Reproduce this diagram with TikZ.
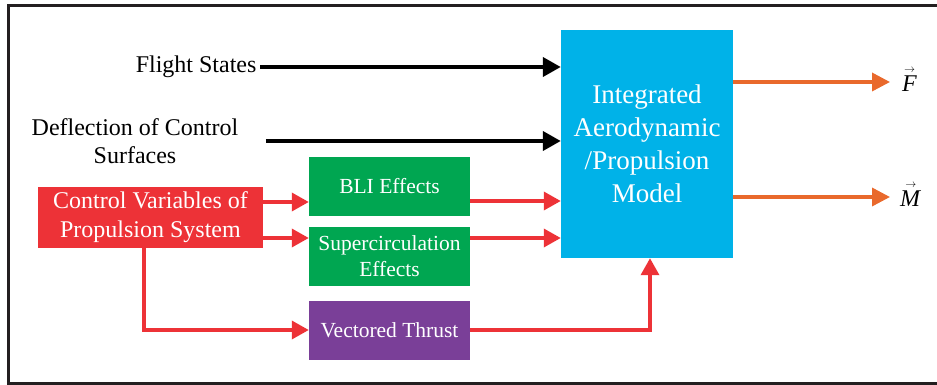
\documentclass[tikz,border=0pt]{standalone}
\usepackage{fontspec}
\setmainfont{Liberation Serif}
\usetikzlibrary{arrows.meta}

\definecolor{azul}{RGB}{0,178,232}
\definecolor{verde}{RGB}{0,166,81}
\definecolor{rojo}{RGB}{237,50,55}
\definecolor{morado}{RGB}{122,63,152}
\definecolor{naranja}{RGB}{233,105,44}
\definecolor{marco}{RGB}{35,31,32}

\newcommand{\vecletra}[1]{\shortstack{{\fontsize{11}{11}\selectfont$\rightarrow$}\\\textit{#1}}}

\tikzset{
  caja/.style={text=white, align=center, inner sep=0pt},
  etiqueta/.style={font=\fontsize{24}{28}\selectfont, align=center},
  flechanegra/.style={line width=4pt, -{Triangle[length=18pt,width=19pt]}},
  flecharoja/.style={rojo, line width=3.5pt, -{Triangle[length=17pt,width=18pt]}},
  flechanaranja/.style={naranja, line width=3.5pt, -{Triangle[length=18pt,width=18pt]}}
}

\begin{document}
\begin{tikzpicture}[x=1pt, y=-1pt]
    \useasboundingbox (0,0) rectangle (937,385);
    % Dibuja el marco
    \draw[marco, line width=3pt] (8,6) rectangle (950,383);

    % Dibuja las cajas
    \node[caja, fill=azul, minimum width=172pt, minimum height=228pt,
          font=\fontsize{27}{33}\selectfont] (modelo) at (647,144)
          {Integrated\\Aerodynamic\\/Propulsion\\Model};
    \node[caja, fill=rojo, minimum width=225pt, minimum height=61pt,
          font=\fontsize{24}{29}\selectfont] (rojo) at (150.5,217.5)
          {Control Variables of\\Propulsion System};
    \node[caja, fill=verde, minimum width=161pt, minimum height=59pt,
          font=\fontsize{21.5}{26}\selectfont] (bli) at (389.5,186.5) {BLI Effects};
    \node[caja, fill=verde, minimum width=161pt, minimum height=59pt,
          font=\fontsize{21.5}{26}\selectfont] (super) at (389.5,256.5)
          {Supercirculation\\Effects};
    \node[caja, fill=morado, minimum width=161pt, minimum height=59pt,
          font=\fontsize{21.5}{26}\selectfont] (vect) at (389.5,330) {Vectored Thrust};

    % Dibuja las entradas
    \node[etiqueta, anchor=east] (estados) at (260,67) {Flight States};
    \node[etiqueta] (defl) at (135,141) {Deflection of Control\\Surfaces};
    \draw[flechanegra] (estados.east) -- (modelo.west |- estados.east);
    \draw[flechanegra, shorten <=24pt] (defl.east) -- (modelo.west |- defl.east);

    % Dibuja las flechas rojas
    \draw[flecharoja] (rojo.east |- 0,202) -- (bli.west |- 0,202);
    \draw[flecharoja] (rojo.east |- 0,238) -- (super.west |- 0,238);
    \draw[flecharoja] (rojo.south -| 144,0) |- (vect.west);
    \draw[flecharoja] (bli.east |- 0,201) -- (modelo.west |- 0,201);
    \draw[flecharoja] (super.east |- 0,238) -- (modelo.west |- 0,238);
    \draw[flecharoja] (vect.east) -| (modelo.south -| 650,0);

    % Dibuja las salidas
    \node[etiqueta, anchor=west, inner xsep=12pt] (fuerza) at (890,80)
          {\vecletra{F}};
    \node[etiqueta, anchor=west, inner xsep=10pt] (momento) at (890,195)
          {\vecletra{M}};
    \draw[flechanaranja] (modelo.east |- 0,82) -- (fuerza.west |- 0,82);
    \draw[flechanaranja] (modelo.east |- 0,197) -- (momento.west |- 0,197);
\end{tikzpicture}
\end{document}
